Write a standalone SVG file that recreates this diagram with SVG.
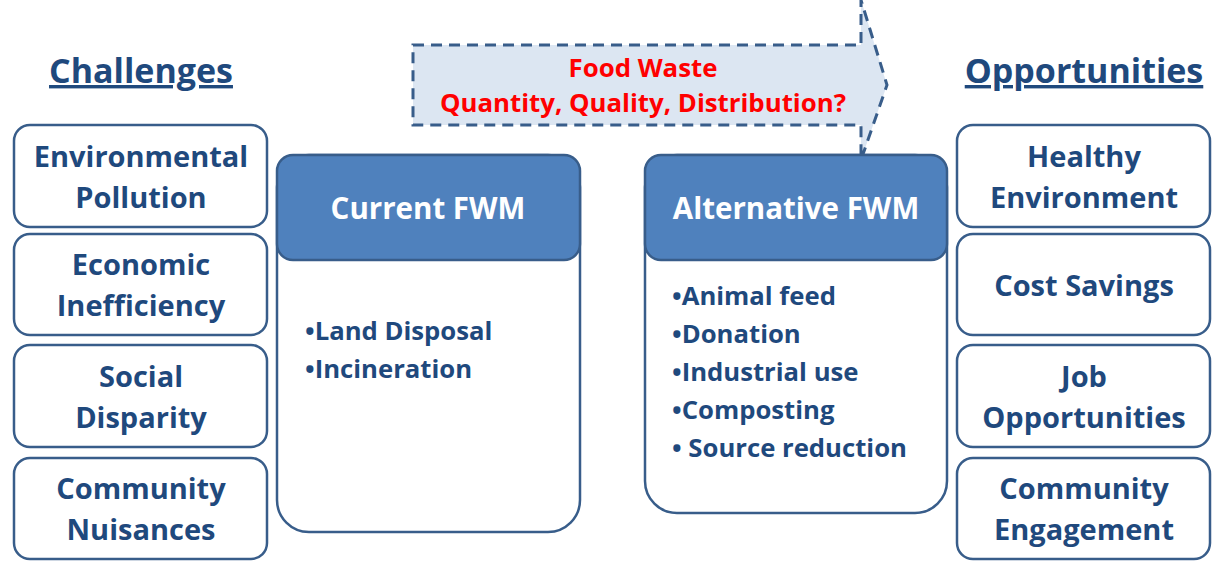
<svg xmlns="http://www.w3.org/2000/svg" width="1224" height="570" viewBox="0 0 1224 570">
<style>
text{font-family:"Open Sans","Liberation Sans",sans-serif;font-weight:bold}
.t{fill:#1f497d;font-size:29px;text-anchor:middle}
.h{fill:#1f497d;font-size:34px;text-anchor:middle;text-decoration:underline}
.box{fill:#fff;stroke:#385d8a;stroke-width:2.5}
.hd{fill:#4f81bd;stroke:#385d8a;stroke-width:2.5}
.w{fill:#fff;font-size:29.5px;text-anchor:middle}
.i{fill:#1f497d;font-size:25.7px}
.r{fill:#ff0000;font-size:25.8px;text-anchor:middle}
</style>
<rect width="1224" height="570" fill="#fff"/>
<g id="connectors">
<path d="M413,45 H861 V0 L887,85 L861,160 V125 H413 Z" fill="#dce6f2" stroke="#385d8a" stroke-width="3" stroke-dasharray="11,7"/>
</g>
<g id="arrow-label">
<text class="r" x="643" y="77">Food Waste</text>
<text class="r" x="643" y="112">Quantity, Quality, Distribution?</text>
</g>
<g id="challenges-title"><text class="h" x="141" y="83">Challenges</text></g>
<g id="opportunities-title"><text class="h" x="1084" y="83">Opportunities</text></g>
<g id="c1"><rect class="box" x="14" y="125" width="253" height="102" rx="16"/><text class="t" x="141" y="167">Environmental</text><text class="t" x="141" y="208">Pollution</text></g>
<g id="c2"><rect class="box" x="14" y="234" width="253" height="101" rx="16"/><text class="t" x="141" y="275">Economic</text><text class="t" x="141" y="316">Inefficiency</text></g>
<g id="c3"><rect class="box" x="14" y="345" width="253" height="102" rx="16"/><text class="t" x="141" y="387">Social</text><text class="t" x="141" y="428">Disparity</text></g>
<g id="c4"><rect class="box" x="14" y="458" width="253" height="101" rx="16"/><text class="t" x="141" y="499">Community</text><text class="t" x="141" y="540">Nuisances</text></g>
<g id="o1"><rect class="box" x="957" y="125" width="253" height="102" rx="16"/><text class="t" x="1084" y="167">Healthy</text><text class="t" x="1084" y="208">Environment</text></g>
<g id="o2"><rect class="box" x="957" y="234" width="253" height="101" rx="16"/><text class="t" x="1084" y="296">Cost Savings</text></g>
<g id="o3"><rect class="box" x="957" y="345" width="253" height="102" rx="16"/><text class="t" x="1084" y="387">Job</text><text class="t" x="1084" y="428">Opportunities</text></g>
<g id="o4"><rect class="box" x="957" y="458" width="253" height="101" rx="16"/><text class="t" x="1084" y="499">Community</text><text class="t" x="1084" y="540">Engagement</text></g>
<g id="current">
<rect class="box" x="277" y="155" width="303" height="377" rx="32"/>
<rect class="hd" x="277" y="155" width="303" height="105" rx="16"/>
<text class="w" x="428" y="219">Current FWM</text>
<text class="i" x="305" y="340">•Land Disposal</text>
<text class="i" x="305" y="378">•Incineration</text>
</g>
<g id="alternative">
<rect class="box" x="645" y="155" width="302" height="358" rx="32"/>
<rect class="hd" x="645" y="155" width="302" height="105" rx="16"/>
<text class="w" x="796" y="219">Alternative FWM</text>
<text class="i" x="672" y="305">•Animal feed</text>
<text class="i" x="672" y="343">•Donation</text>
<text class="i" x="672" y="381">•Industrial use</text>
<text class="i" x="672" y="419">•Composting</text>
<text class="i" x="672" y="457">• Source reduction</text>
</g>
</svg>
